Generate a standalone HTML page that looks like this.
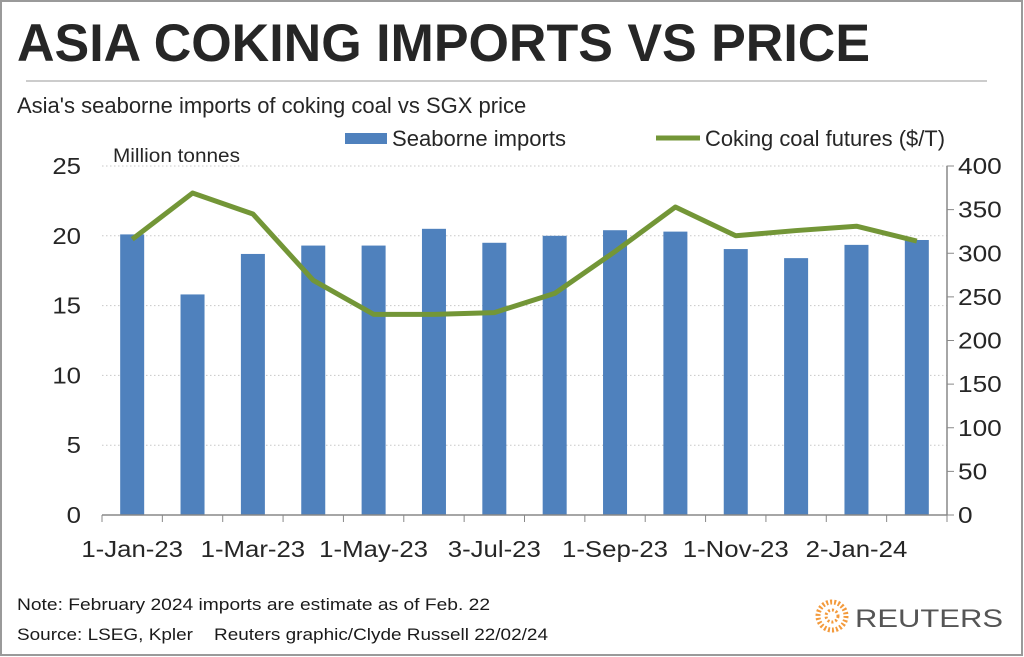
<!DOCTYPE html>
<html><head><meta charset="utf-8"><style>
html,body{margin:0;padding:0;background:#fff;}
svg{display:block;font-family:"Liberation Sans",Arial,sans-serif;}
</style></head><body>
<svg width="1024" height="657" viewBox="0 0 1024 657" xmlns="http://www.w3.org/2000/svg">
<rect x="1" y="1" width="1021" height="654" fill="#fff" stroke="#9a9a9a" stroke-width="2"/>
<text x="17" y="61" font-size="53" font-weight="bold" fill="#262626" textLength="853" lengthAdjust="spacingAndGlyphs">ASIA COKING IMPORTS VS PRICE</text>
<line x1="26" y1="81" x2="987" y2="81" stroke="#bbb" stroke-width="1.5"/>
<text x="17" y="113" font-size="22" fill="#262626">Asia's seaborne imports of coking coal vs SGX price</text>
<rect x="345" y="133" width="42" height="11" fill="#4f81bd"/>
<text x="392" y="146" font-size="22" fill="#262626" textLength="174" lengthAdjust="spacingAndGlyphs">Seaborne imports</text>
<line x1="656" y1="138" x2="700" y2="138" stroke="#739637" stroke-width="5"/>
<text x="705" y="146" font-size="22" fill="#262626" textLength="240" lengthAdjust="spacingAndGlyphs">Coking coal futures ($/T)</text>
<text x="113" y="162" font-size="19" fill="#262626" textLength="127" lengthAdjust="spacingAndGlyphs">Million tonnes</text>
<g id="plot"></g>
<text x="17" y="610" font-size="17" fill="#1a1a1a" textLength="473" lengthAdjust="spacingAndGlyphs">Note: February 2024 imports are estimate as of Feb. 22</text>
<text x="17" y="640" font-size="17" fill="#1a1a1a" textLength="531" lengthAdjust="spacingAndGlyphs" style="white-space:pre">Source: LSEG, Kpler    Reuters graphic/Clyde Russell 22/02/24</text>
<g>
<circle cx="832" cy="616" r="14" fill="none" stroke="#f39a3c" stroke-width="5" stroke-dasharray="2 2"/>
<circle cx="832" cy="616" r="6" fill="none" stroke="#f39a3c" stroke-width="3" stroke-dasharray="2 2"/>
<text x="855" y="627" font-size="25" fill="#555" textLength="148" lengthAdjust="spacingAndGlyphs">REUTERS</text>
</g>
</svg>
<script>
const categories=["Jan-23","Feb-23","Mar-23","Apr-23","May-23","Jun-23","Jul-23","Aug-23","Sep-23","Oct-23","Nov-23","Dec-23","Jan-24","Feb-24"];
const imports=[20.1,15.8,18.7,19.3,19.3,20.5,19.5,20.0,20.4,20.3,19.05,18.4,19.35,19.7];
const price=[316,369,345,269,230,230,232,254,302,353,320,326,331,314];
const leftTicks=[0,5,10,15,20,25];
const rightTicks=[0,50,100,150,200,250,300,350,400];
const xLabels=["1-Jan-23","","1-Mar-23","","1-May-23","","3-Jul-23","","1-Sep-23","","1-Nov-23","","2-Jan-24",""];

const NS="http://www.w3.org/2000/svg";
const g=document.getElementById('plot');
const X0=102,X1=947,Y0=515,Y1=166;
const slot=(X1-X0)/categories.length;
const xc=i=>X0+slot*(i+0.5);
const yL=v=>Y0-(v/25)*(Y0-Y1);
const yR=v=>Y0-(v/400)*(Y0-Y1);
function mk(t,a){const e=document.createElementNS(NS,t);for(const k in a)e.setAttribute(k,a[k]);g.appendChild(e);return e;}
function stretch(t,k){const w=t.getComputedTextLength();t.setAttribute('textLength',w*k);t.setAttribute('lengthAdjust','spacingAndGlyphs');}
leftTicks.forEach(v=>{
  if(v>0){const l=mk('line',{x1:X0,x2:X1,y1:yL(v),y2:yL(v),stroke:'#c8c8c8','stroke-dasharray':'1.5 2.5'});
  
  }
  const t=mk('text',{x:81,y:yL(v)+8,'font-size':23,'text-anchor':'end',fill:'#262626'});t.textContent=v;
  stretch(t,1.12);
  
  
});
rightTicks.forEach(v=>{
  const l=mk('line',{x1:X1,x2:X1+7,y1:yR(v),y2:yR(v),stroke:'#888'});
  
  
  const t=mk('text',{x:958,y:yR(v)+8,'font-size':23,fill:'#262626'});t.textContent=v;
  stretch(t,1.14);
  
  
});
imports.forEach((v,i)=>{
  const r=mk('rect',{x:xc(i)-12,y:yL(v),width:24,height:Y0-yL(v),fill:'#4f81bd'});
  
  
});
const ax=mk('line',{x1:X0,x2:X1,y1:Y0,y2:Y0,stroke:'#888','stroke-width':1.5});


const ra=mk('line',{x1:X1,x2:X1,y1:Y1,y2:Y0,stroke:'#888','stroke-width':1.5});


for(let i=0;i<=categories.length;i++){
  const l=mk('line',{x1:X0+slot*i,x2:X0+slot*i,y1:Y0,y2:Y0+7,stroke:'#888'});
  
  
}
xLabels.forEach((s,i)=>{if(!s)return;
  const t=mk('text',{x:xc(i),y:557,'font-size':23,'text-anchor':'middle',fill:'#262626'});t.textContent=s;
  stretch(t,1.12);
  
  
});
const pl=mk('polyline',{points:price.map((v,i)=>xc(i)+','+yR(v)).join(' '),fill:'none',stroke:'#739637','stroke-width':5,'stroke-linejoin':'round'});


</script>
</body></html>
